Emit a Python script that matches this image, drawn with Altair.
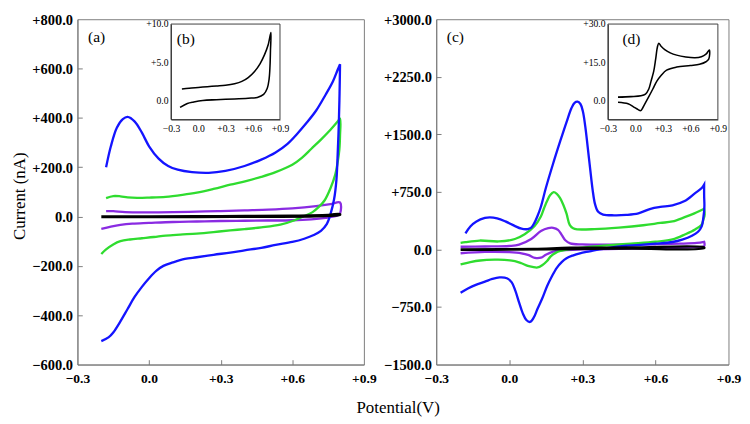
import altair as alt
import pandas as pd

FONT = "Liberation Serif"
GRAY = "#7a7a7a"
DARK = "#3a3a3a"
LBL = "datum.value > 0 ? '+' + format(datum.value, '.1f') : format(datum.value, '.1f')"

# ---------------- tick values ----------------
x_ticks = [-0.3, 0.0, 0.3, 0.6, 0.9]
a_y_ticks = [-600, -400, -200, 0, 200, 400, 600, 800]
c_y_ticks = [-1500, -750, 0, 750, 1500, 2250, 3000]
b_y_ticks = [0, 5, 10]
d_y_ticks = [0, 15, 30]

series_names = ["purple", "green", "blue", "black"]
series_colors = ["#8a2be2", "#2fdc2f", "#1414ff", "#000000"]

# ---------------- panel (a) ----------------
a_blue_fv = [-0.18, -0.16, -0.135, -0.11, -0.09, -0.06, -0.03, 0.0, 0.04, 0.08, 0.12, 0.18, 0.25, 0.32, 0.40, 0.47, 0.53, 0.58, 0.62, 0.66, 0.70, 0.74, 0.77, 0.79, 0.80]
a_blue_fi = [200, 285, 360, 395, 404, 385, 340, 285, 235, 205, 190, 180, 177, 185, 205, 231, 260, 295, 335, 380, 430, 495, 548, 595, 618]
a_blue_rv = [0.80, 0.798, 0.795, 0.79, 0.785, 0.775, 0.76, 0.745, 0.72, 0.69, 0.65, 0.60, 0.53, 0.47, 0.40, 0.34, 0.27, 0.20, 0.15, 0.10, 0.06, 0.03, 0.0, -0.03, -0.06, -0.09, -0.12, -0.15, -0.17, -0.20]
a_blue_ri = [618, 500, 380, 250, 150, 70, 10, -30, -58, -75, -90, -103, -115, -127, -137, -146, -155, -165, -172, -186, -200, -220, -250, -285, -325, -375, -425, -470, -490, -505]

a_green_fv = [-0.18, -0.15, -0.12, -0.09, -0.05, 0.0, 0.07, 0.14, 0.20, 0.27, 0.34, 0.41, 0.47, 0.53, 0.60, 0.64, 0.68, 0.72, 0.76, 0.79, 0.80]
a_green_fi = [75, 83, 82, 78, 76, 77, 80, 88, 97, 112, 129, 145, 161, 180, 210, 238, 275, 312, 352, 385, 397]
a_green_rv = [0.80, 0.797, 0.79, 0.78, 0.76, 0.735, 0.71, 0.685, 0.65, 0.61, 0.55, 0.47, 0.40, 0.34, 0.27, 0.20, 0.13, 0.07, 0.02, -0.03, -0.08, -0.12, -0.15, -0.18, -0.20]
a_green_ri = [330, 270, 220, 170, 115, 65, 38, 18, 2, -15, -33, -44, -51, -56, -63, -69, -73, -77, -83, -88, -93, -100, -113, -133, -152]

a_purple_fv = [-0.18, -0.15, -0.10, 0.0, 0.10, 0.20, 0.30, 0.40, 0.50, 0.60, 0.70, 0.76, 0.80]
a_purple_fi = [22, 22, 18, 17, 18, 20, 22, 25, 28, 33, 42, 50, 57]
a_purple_rv = [0.80, 0.79, 0.74, 0.60, 0.50, 0.40, 0.30, 0.20, 0.10, 0.0, -0.07, -0.12, -0.16, -0.20]
a_purple_ri = [12, 4, -5, -15, -16, -17, -18, -20, -22, -26, -29, -34, -41, -50]

a_black_fv = [-0.20, 0.0, 0.3, 0.6, 0.75, 0.80]
a_black_fi = [1, 1, 2, 4, 7, 10]
a_black_rv = [0.80, 0.70, 0.5, 0.2, 0.0, -0.2]
a_black_ri = [6, 1, -1, -2, -2, -2]

# inset (b)
b_fv = [-0.18, -0.1, 0.0, 0.1, 0.2, 0.3, 0.4, 0.48, 0.55, 0.62, 0.68, 0.73, 0.77, 0.80]
b_fi = [1.5, 1.6, 1.7, 1.8, 1.9, 2.0, 2.2, 2.5, 3.0, 3.8, 4.8, 6.0, 7.3, 8.9]
b_rv = [0.795, 0.79, 0.78, 0.76, 0.72, 0.65, 0.55, 0.4, 0.2, 0.05, -0.05, -0.12, -0.2]
b_ri = [6.5, 4.5, 2.8, 1.6, 0.8, 0.4, 0.3, 0.2, 0.1, 0.0, -0.2, -0.4, -0.9]

# ---------------- panel (c) ----------------
c_blue_fv = [-0.18, -0.16, -0.135, -0.10, -0.08, -0.05, -0.016, 0.02, 0.05, 0.075, 0.09, 0.102, 0.115, 0.129, 0.15, 0.18, 0.21, 0.235, 0.255, 0.268, 0.28, 0.292, 0.302, 0.312, 0.322, 0.332, 0.342, 0.352, 0.365, 0.385, 0.43, 0.48, 0.53, 0.58, 0.62, 0.67, 0.72, 0.763, 0.79, 0.80]
c_blue_fi = [210, 300, 365, 410, 418, 405, 365, 310, 270, 265, 285, 340, 430, 550, 800, 1120, 1420, 1660, 1840, 1910, 1925, 1895, 1800, 1600, 1330, 1050, 780, 590, 490, 455, 445, 450, 470, 530, 555, 575, 631, 734, 800, 845]
c_blue_rv = [0.80, 0.80, 0.801, 0.797, 0.79, 0.775, 0.75, 0.71, 0.67, 0.60, 0.55, 0.48, 0.42, 0.37, 0.33, 0.29, 0.26, 0.235, 0.215, 0.195, 0.175, 0.155, 0.135, 0.115, 0.10, 0.085, 0.07, 0.055, 0.04, 0.025, 0.01, -0.01, -0.04, -0.07, -0.10, -0.14, -0.17, -0.20]
c_blue_ri = [845, 700, 560, 420, 300, 230, 178, 128, 97, 75, 62, 48, 25, 0, -25, -50, -80, -115, -165, -240, -350, -480, -640, -780, -890, -945, -920, -830, -690, -540, -430, -375, -365, -385, -420, -465, -510, -565]

c_green_fv = [-0.20, -0.18, -0.122, -0.043, 0.023, 0.063, 0.103, 0.129, 0.143, 0.155, 0.168, 0.182, 0.195, 0.208, 0.222, 0.235, 0.248, 0.262, 0.28, 0.35, 0.45, 0.55, 0.62, 0.67, 0.72, 0.76, 0.80]
c_green_fi = [85, 95, 116, 104, 136, 198, 302, 425, 540, 630, 710, 746, 725, 672, 580, 466, 320, 275, 262, 265, 285, 315, 345, 365, 420, 470, 530]
c_green_rv = [0.80, 0.802, 0.797, 0.789, 0.763, 0.723, 0.67, 0.60, 0.50, 0.40, 0.32, 0.25, 0.21, 0.19, 0.17, 0.155, 0.135, 0.116, 0.095, 0.076, 0.05, 0.023, -0.02, -0.06, -0.12, -0.16, -0.20]
c_green_ri = [530, 450, 390, 320, 260, 198, 130, 100, 75, 52, 30, 5, -20, -45, -90, -150, -205, -235, -228, -214, -180, -152, -135, -133, -144, -165, -195]

c_purple_fv = [-0.20, -0.10, 0.0, 0.04, 0.09, 0.13, 0.16, 0.18, 0.20, 0.215, 0.23, 0.25, 0.30, 0.45, 0.60, 0.70, 0.77, 0.80]
c_purple_fi = [35, 38, 45, 62, 136, 240, 278, 282, 255, 190, 120, 80, 65, 62, 68, 75, 85, 100]
c_purple_rv = [0.80, 0.80, 0.75, 0.60, 0.45, 0.30, 0.22, 0.18, 0.15, 0.13, 0.105, 0.08, 0.05, 0.0, -0.1, -0.2]
c_purple_ri = [100, 45, 30, 15, 8, 0, -10, -30, -70, -108, -110, -75, -50, -35, -32, -50]

c_black_fv = [-0.2, 0.1, 0.25, 0.5, 0.8]
c_black_fi = [0, 8, 22, 25, 28]
c_black_rv = [0.8, 0.5, 0.25, 0.0, -0.2]
c_black_ri = [15, 10, 5, -3, -5]

# inset (d)
d_fv = [-0.19, -0.05, 0.06, 0.11, 0.146, 0.17, 0.20, 0.22, 0.24, 0.255, 0.28, 0.32, 0.38, 0.45, 0.55, 0.65, 0.72, 0.77, 0.807]
d_fi = [1.3, 1.5, 1.8, 2.5, 4.5, 7.5, 11.5, 16, 21, 22.5, 21.3, 20, 18.7, 17.8, 17.1, 16.8, 17.2, 18.2, 19.8]
d_rv = [0.80, 0.77, 0.70, 0.60, 0.45, 0.34, 0.28, 0.234, 0.19, 0.146, 0.10, 0.058, 0.03, -0.013, -0.08, -0.19]
d_ri = [16.2, 15.2, 14.2, 13.7, 13.1, 11.9, 9.8, 7.6, 4.5, 1.5, -1.5, -4, -3.6, -2.7, -1.3, -0.7]

panel_letters = ["(a)", "(b)", "(c)", "(d)"]


def loop(name, fv, fi, rv, ri):
    assert len(fv) == len(fi) and len(rv) == len(ri)
    v = list(fv) + list(rv)
    i = list(fi) + list(ri)
    return pd.DataFrame({"V": v, "I": i, "series": name, "k": list(range(len(v)))})


a_df = pd.concat([
    loop("purple", a_purple_fv, a_purple_fi, a_purple_rv, a_purple_ri),
    loop("green", a_green_fv, a_green_fi, a_green_rv, a_green_ri),
    loop("blue", a_blue_fv, a_blue_fi, a_blue_rv, a_blue_ri),
    loop("black", a_black_fv, a_black_fi, a_black_rv, a_black_ri),
], ignore_index=True)
c_df = pd.concat([
    loop("purple", c_purple_fv, c_purple_fi, c_purple_rv, c_purple_ri),
    loop("green", c_green_fv, c_green_fi, c_green_rv, c_green_ri),
    loop("blue", c_blue_fv, c_blue_fi, c_blue_rv, c_blue_ri),
    loop("black", c_black_fv, c_black_fi, c_black_rv, c_black_ri),
], ignore_index=True)
b_df = loop("inset", b_fv, b_fi, b_rv, b_ri)
d_df = loop("inset", d_fv, d_fi, d_rv, d_ri)

W_A, W_C, H = 297, 303, 358
INSET_Y = [104, 5]


def panel(main_df, inset_df, ydom, yticks, ydom_in, yticks_in, W, inset_x,
          letter_main, letter_inset, inset_letter_x, first):
    xs = alt.Scale(domain=[-0.3, 0.9], nice=False, zero=False)
    ys = alt.Scale(domain=ydom, nice=False, zero=False)
    common = dict(labelExpr=LBL, labelFont=FONT, labelColor="black", labelOverlap=False,
                  labelFlush=False, grid=False)
    xcommon = dict(values=x_ticks, tickSize=0, labelPadding=8, labelFontSize=14,
                   labelFontWeight="bold", domainColor=GRAY, **common)
    ycommon = dict(values=yticks, tickSize=0, labelPadding=5, labelFontSize=15,
                   labelFontWeight="bold", domainColor=GRAY, **common)
    if first:
        xaxis = alt.Axis(title="Potential(V)", titleFont=FONT,
                         titleFontSize=17.5, titleFontWeight="normal", titleColor="black",
                         titleX=332, titleY=50, titleAlign="center", titleBaseline="alphabetic",
                         **xcommon)
        yaxis = alt.Axis(title="Current (nA)", titleFont=FONT,
                         titleFontSize=17.5, titleFontWeight="normal", titleColor="black",
                         titleX=-55, titleY=183, titleAngle=270, titleAlign="center",
                         titleBaseline="alphabetic", **ycommon)
    else:
        xaxis = alt.Axis(title=None, **xcommon)
        yaxis = alt.Axis(title=None, **ycommon)

    main = alt.Chart(main_df).mark_line(strokeWidth=2.4, interpolate="catmull-rom").encode(
        x=alt.X("V:Q", scale=xs, axis=xaxis),
        y=alt.Y("I:Q", scale=ys, axis=yaxis),
        color=alt.Color("series:N", scale=alt.Scale(domain=series_names, range=series_colors),
                        legend=None),
        order="k:Q",
    )
    # inward ticks
    ticks = alt.Chart(main_df).mark_line(opacity=0).encode(
        x=alt.X("V:Q", scale=xs, axis=alt.Axis(orient="bottom", offset=-5, values=x_ticks[1:-1],
                                               labels=False, domain=False, tickSize=5,
                                               tickColor=GRAY, grid=False, title=None)),
        y=alt.Y("I:Q", scale=ys, axis=alt.Axis(orient="left", offset=-5, values=yticks[1:-1],
                                               labels=False, domain=False, tickSize=5,
                                               tickColor=GRAY, grid=False, title=None)),
    )
    inset = alt.Chart(inset_df).mark_line(color="black", strokeWidth=1.6,
                                          interpolate="catmull-rom").encode(
        x=alt.X("V:Q", scale=alt.Scale(domain=[-0.3, 0.9], range=inset_x, nice=False, zero=False),
                axis=alt.Axis(orient="bottom", offset=INSET_Y[0] - H, values=x_ticks, tickSize=0,
                              labelPadding=4, labelFontSize=10, domainColor=DARK, title=None,
                              **common)),
        y=alt.Y("I:Q", scale=alt.Scale(domain=ydom_in, range=INSET_Y, nice=False, zero=False),
                axis=alt.Axis(orient="left", offset=-inset_x[0], values=yticks_in, tickSize=0,
                              labelPadding=3, labelFontSize=10, domainColor=DARK, title=None,
                              **common)),
        order="k:Q",
    )
    box = alt.Chart(pd.DataFrame({"a": [0]})).mark_rect(fillOpacity=0, stroke=DARK,
                                                       strokeWidth=1).encode(
        x=alt.value(inset_x[0]), x2=alt.value(inset_x[1]),
        y=alt.value(INSET_Y[1]), y2=alt.value(INSET_Y[0]),
    )
    t1 = alt.Chart(pd.DataFrame({"t": [letter_main]})).mark_text(
        align="left", baseline="alphabetic", font=FONT, fontSize=16, color="black").encode(
        x=alt.value(11), y=alt.value(24), text="t:N")
    t2 = alt.Chart(pd.DataFrame({"t": [letter_inset]})).mark_text(
        align="left", baseline="alphabetic", font=FONT, fontSize=16, color="black").encode(
        x=alt.value(inset_letter_x), y=alt.value(26), text="t:N")
    return alt.layer(main, ticks, inset, box, t1, t2).resolve_scale(
        x="independent", y="independent").properties(width=W, height=H)


left = panel(a_df, b_df, [-600, 800], a_y_ticks, [-2.5, 10], b_y_ticks, W_A,
             [97, 210], panel_letters[0], panel_letters[1], 103, True)
right = panel(c_df, d_df, [-1500, 3000], c_y_ticks, [-7.5, 30], d_y_ticks, W_C,
              [178, 292], panel_letters[2], panel_letters[3], 193, False)

chart = alt.hconcat(left, right, spacing=75, bounds="flush").properties(
    padding={"left": 2, "top": -4, "right": 0, "bottom": 0}
).configure_view(stroke=GRAY, strokeWidth=1).configure_axis(
    labelFont=FONT, titleFont=FONT
).configure_text(font=FONT)

chart.save("out.html", embed_options={"renderer": "svg", "actions": False})
